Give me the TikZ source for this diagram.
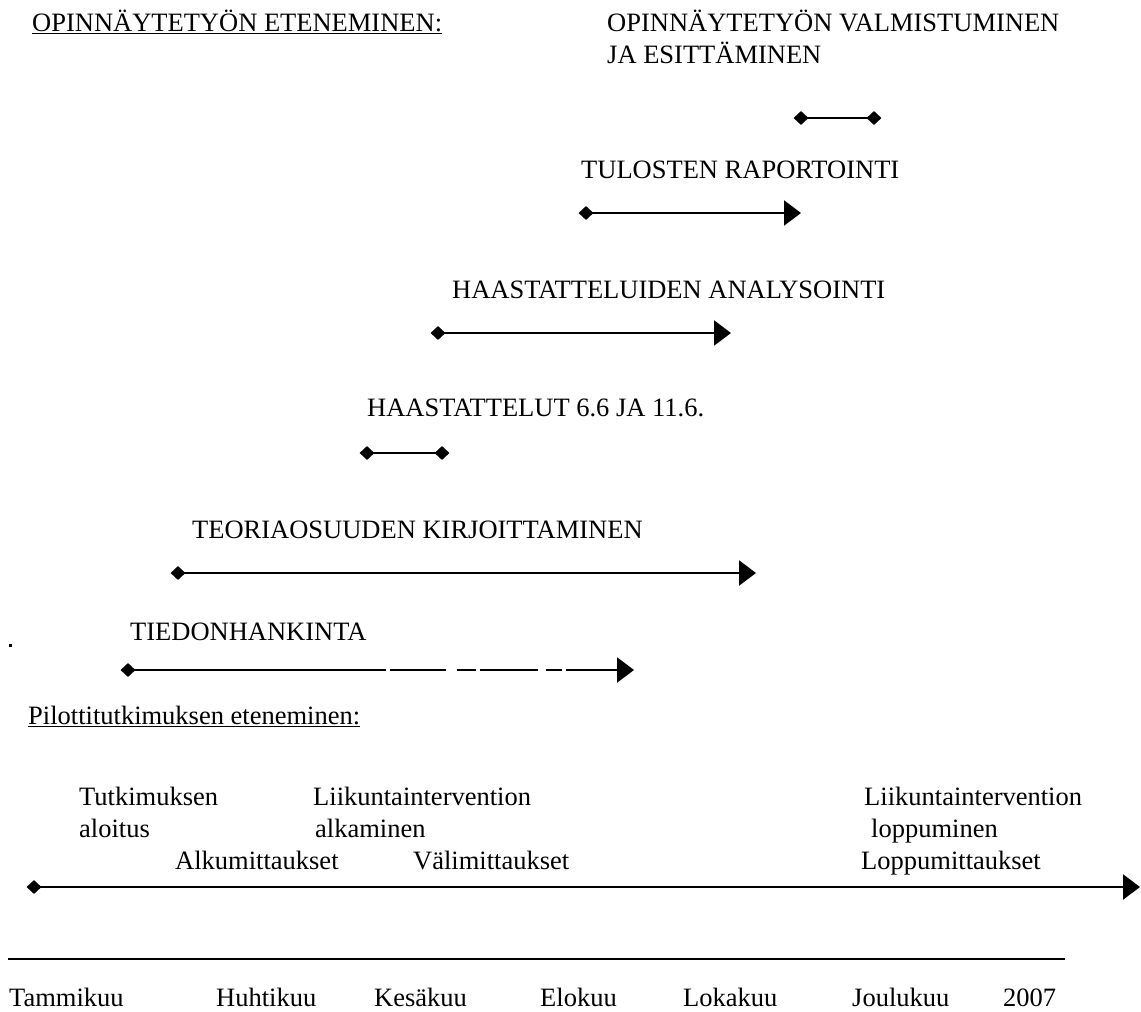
\documentclass[tikz,border=0pt]{standalone}
\usepackage{fontspec}
\setmainfont{Liberation Serif}
\usetikzlibrary{shapes.geometric,arrows.meta}
\begin{document}
\begin{tikzpicture}[x=1pt,y=-1pt,
  lbl/.style={anchor=base west,inner sep=0pt,font=\fontsize{26.5}{30}\selectfont},
  dia/.style={diamond,fill=black,inner sep=0pt,minimum width=15pt,minimum height=14pt},
  bar/.style={line width=2.5pt},
  tipbar/.style={bar,-{Triangle[length=17pt,width=25pt]}}
]
\useasboundingbox (0,0) rectangle (1141,1012);

% headings
\node[lbl] (h1) at (32,31) {\underline{OPINNÄYTETYÖN ETENEMINEN:}};
\node[lbl] (h2) at (607,31) {OPINNÄYTETYÖN VALMISTUMINEN};
\node[lbl] (h3) at (607,63) {JA ESITTÄMINEN};

% bar 1
\node[dia] (a1) at (801,118) {};
\node[dia] (b1) at (874,118) {};
\draw[bar] (a1.center) -- (b1.center);

% bar 2
\node[lbl] (t2) at (581,178) {TULOSTEN RAPORTOINTI};
\node[dia] (a2) at (586,213) {};
\coordinate (b2) at (801,213);
\draw[tipbar] (a2.center) -- (b2);

% bar 3
\node[lbl] (t3) at (452,298) {HAASTATTELUIDEN ANALYSOINTI};
\node[dia] (a3) at (438,333) {};
\coordinate (b3) at (731,333);
\draw[tipbar] (a3.center) -- (b3);

% bar 4
\node[lbl] (t4) at (367,416) {HAASTATTELUT 6.6 JA 11.6.};
\node[dia] (a4) at (367,453) {};
\node[dia] (b4) at (442,453) {};
\draw[bar] (a4.center) -- (b4.center);

% bar 5
\node[lbl] (t5) at (192,538) {TEORIAOSUUDEN KIRJOITTAMINEN};
\node[dia] (a5) at (178,573) {};
\coordinate (b5) at (756,573);
\draw[tipbar] (a5.center) -- (b5);

% bar 6 (solid, then broken)
\node[lbl] (t6) at (130,640) {TIEDONHANKINTA};
\node[dia] (a6) at (128,670) {};
\coordinate (c1) at (386,670);
\coordinate (c2) at (390,670);
\coordinate (c3) at (446,670);
\coordinate (c4) at (457,670);
\coordinate (c5) at (476,670);
\coordinate (c6) at (480,670);
\coordinate (c7) at (538,670);
\coordinate (c8) at (546,670);
\coordinate (c9) at (562,670);
\coordinate (c10) at (566,670);
\coordinate (b6) at (634,670);
\draw[bar] (a6.center) -- (c1);
\draw[bar] (c2) -- (c3);
\draw[bar] (c4) -- (c5);
\draw[bar] (c6) -- (c7);
\draw[bar] (c8) -- (c9);
\draw[tipbar] (c10) -- (b6);
\fill (8.5,644) rectangle (11.5,647);

% pilot
\node[lbl] (p0) at (28,724) {\underline{Pilottitutkimuksen eteneminen:}};
\node[lbl] (p1) at (79,805) {Tutkimuksen};
\node[lbl] (p2) at (79,837) {aloitus};
\node[lbl] (p3) at (313,805) {Liikuntaintervention};
\node[lbl] (p4) at (315,837) {alkaminen};
\node[lbl] (p5) at (864,805) {Liikuntaintervention};
\node[lbl] (p6) at (871,837) {loppuminen};
\node[lbl] (p7) at (175,869) {Alkumittaukset};
\node[lbl] (p8) at (413,869) {Välimittaukset};
\node[lbl] (p9) at (861,869) {Loppumittaukset};
\node[dia] (a7) at (34,887) {};
\coordinate (b7) at (1140,887);
\draw[tipbar] (a7.center) -- (b7);

% time axis
\coordinate (l1) at (8,959);
\coordinate (l2) at (1065,959);
\draw[line width=1.5pt] (l1) -- (l2);
\node[lbl] (m1) at (9,1006) {Tammikuu};
\node[lbl] (m2) at (216,1006) {Huhtikuu};
\node[lbl] (m3) at (374,1006) {Kesäkuu};
\node[lbl] (m4) at (540,1006) {Elokuu};
\node[lbl] (m5) at (683,1006) {Lokakuu};
\node[lbl] (m6) at (852,1006) {Joulukuu};
\node[lbl] (m7) at (1003,1006) {2007};
\end{tikzpicture}
\end{document}
